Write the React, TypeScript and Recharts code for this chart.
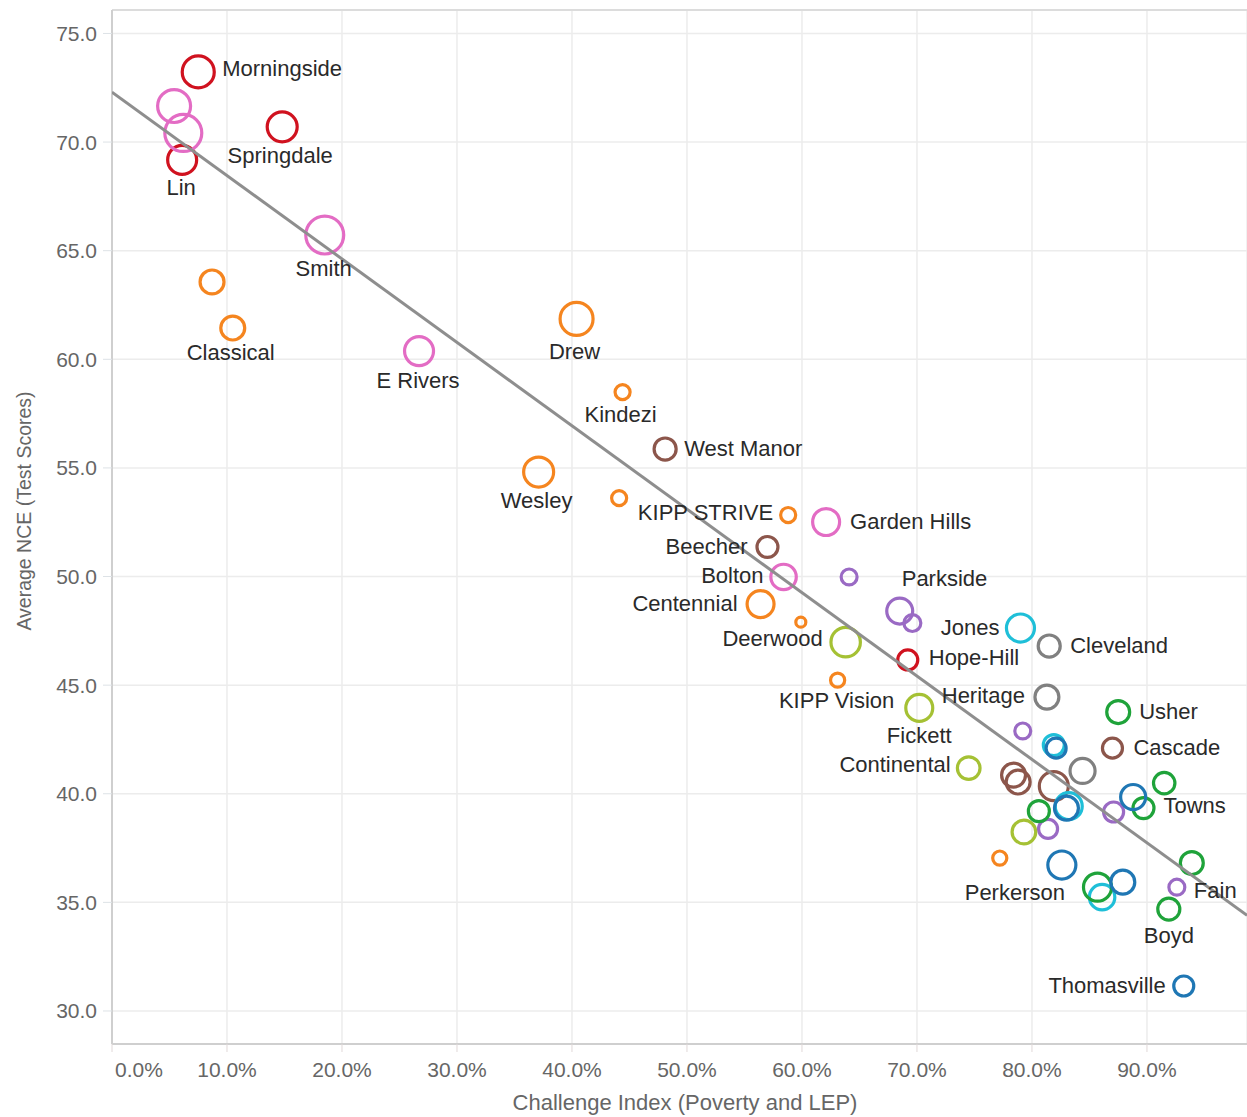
import React from 'react'
import { ScatterChart, Scatter, XAxis, YAxis, ZAxis, CartesianGrid, ReferenceLine } from 'recharts'

// school labels ('' = unlabeled mark)
const schools = [
  'Morningside', '', '', 'Lin', 'Springdale', 'Smith', '', 'Classical', 'E Rivers', 'Drew',
  'Kindezi', 'West Manor', 'Wesley', '', 'KIPP STRIVE', 'Garden Hills', 'Beecher', 'Bolton', '', 'Centennial',
  '', 'Deerwood', 'Parkside', '', 'Jones', 'Hope-Hill', 'KIPP Vision', 'Cleveland', 'Heritage', 'Fickett',
  'Usher', '', '', '', 'Cascade', 'Continental', '', '', '', '',
  '', '', 'Towns', '', '', '', '', '', '', '',
  'Perkerson', '', '', '', '', 'Fain', 'Boyd', 'Thomasville',
]

// challenge index (share, 0..1)
const challenge = [
  0.075, 0.054, 0.062, 0.061, 0.148, 0.185, 0.087, 0.105, 0.267, 0.404,
  0.444, 0.481, 0.371, 0.441, 0.588, 0.621, 0.570, 0.584, 0.641, 0.564,
  0.599, 0.638, 0.685, 0.696, 0.790, 0.692, 0.631, 0.815, 0.813, 0.702,
  0.875, 0.792, 0.819, 0.821, 0.870, 0.745, 0.784, 0.788, 0.844, 0.819,
  0.915, 0.888, 0.897, 0.832, 0.830, 0.806, 0.871, 0.814, 0.793, 0.772,
  0.826, 0.857, 0.861, 0.879, 0.939, 0.926, 0.919, 0.932,
]

// average NCE
const nce = [
  73.23, 71.66, 70.42, 69.18, 70.7, 65.72, 63.56, 61.44, 60.38, 61.86,
  58.49, 55.87, 54.81, 53.61, 52.83, 52.51, 51.36, 49.98, 49.98, 48.73,
  47.9, 46.98, 48.41, 47.86, 47.63, 46.16, 45.23, 46.8, 44.45, 43.95,
  43.76, 42.89, 42.24, 42.1, 42.1, 41.18, 40.86, 40.54, 41.05, 40.35,
  40.49, 39.85, 39.34, 39.43, 39.34, 39.2, 39.16, 38.38, 38.24, 37.04,
  36.72, 35.7, 35.24, 35.93, 36.81, 35.7, 34.69, 31.15,
]

// enrollment (bubble size)
const enrollment = [
  770, 815, 1025, 630, 675, 1080, 430, 430, 630, 815,
  170, 365, 675, 170, 170, 545, 330, 485, 190, 545,
  75, 650, 505, 215, 590, 300, 150, 365, 430, 545,
  395, 190, 330, 300, 300, 385, 430, 430, 470, 630,
  345, 470, 330, 545, 430, 330, 300, 270, 420, 150,
  590, 590, 485, 430, 395, 190, 365, 300,
]

// cluster index per school
const cluster = [
  0, 1, 1, 0, 0, 1, 2, 2, 1, 2,
  2, 3, 2, 2, 2, 1, 3, 1, 4, 2,
  2, 5, 4, 4, 6, 0, 2, 7, 7, 5,
  8, 4, 6, 9, 3, 5, 3, 3, 7, 3,
  8, 9, 8, 6, 9, 8, 4, 4, 5, 2,
  9, 8, 6, 9, 8, 4, 8, 9,
]

const clusterNames = ['C1', 'C2', 'C3', 'C4', 'C5', 'C6', 'C7', 'C8', 'C9', 'C10']

const xTicks = [0, 0.1, 0.2, 0.3, 0.4, 0.5, 0.6, 0.7, 0.8, 0.9]
const yTicks = [30, 35, 40, 45, 50, 55, 60, 65, 70, 75]

// fitted trend line end points
const trendX = [0, 0.987]
const trendY = [72.3, 34.4]

const clusterColors = [
  '#d0121f', '#e36cc4', '#f5851f', '#8c564b', '#9a6ac4',
  '#a5c134', '#1fbfd8', '#808080', '#1fa33a', '#1f77b4',
]

// label offset from mark centre: [dx, dy, anchor]
const labelPlace: Record<string, [number, number, 'start' | 'middle' | 'end']> = {
  Morningside: [24, -3, 'start'],
  Lin: [-1, 28, 'middle'],
  Springdale: [-2, 29, 'middle'],
  Smith: [-1, 33, 'middle'],
  Classical: [-2, 24, 'middle'],
  'E Rivers': [-1, 29, 'middle'],
  Drew: [-2, 33, 'middle'],
  Kindezi: [-2, 22, 'middle'],
  'West Manor': [19, -1, 'start'],
  Wesley: [-2, 28, 'middle'],
  'KIPP STRIVE': [-15, -3, 'end'],
  'Garden Hills': [24, -1, 'start'],
  Beecher: [-20, 0, 'end'],
  Bolton: [-20, -1, 'end'],
  Parkside: [2, -33, 'start'],
  Centennial: [-23, -1, 'end'],
  Deerwood: [-23, -4, 'end'],
  Jones: [-21, -1, 'end'],
  'Hope-Hill': [21, -2, 'start'],
  Cleveland: [21, -1, 'start'],
  'KIPP Vision': [-1, 20, 'middle'],
  Heritage: [-22, -2, 'end'],
  Fickett: [0, 28, 'middle'],
  Usher: [21, -1, 'start'],
  Cascade: [21, -1, 'start'],
  Continental: [-18, -4, 'end'],
  Towns: [20, -3, 'start'],
  Perkerson: [-47, 27, 'middle'],
  Fain: [17, 3, 'start'],
  Boyd: [0, 26, 'middle'],
  Thomasville: [-18, -1, 'end'],
}

const rows = schools.map((name, i) => ({
  name,
  x: challenge[i],
  y: nce[i],
  z: enrollment[i],
  c: cluster[i],
}))
const trend = trendX.map((x, i) => ({ x, y: trendY[i], z: 0 }))

const FONT = '"Liberation Sans", Arial, Helvetica, sans-serif'

function XTick(props: any) {
  const { x, y, payload, index } = props
  const first = index === 0
  return (
    <text x={first ? x + 3 : x} y={y + 21} textAnchor={first ? 'start' : 'middle'} fill="#666" fontSize={21} fontFamily={FONT}>
      {(payload.value * 100).toFixed(1) + '%'}
    </text>
  )
}

function YTick(props: any) {
  const { x, y, payload } = props
  return (
    <text x={x} y={y + 7.5} textAnchor="end" fill="#666" fontSize={21} fontFamily={FONT}>
      {Number(payload.value).toFixed(1)}
    </text>
  )
}

function ring(color: string) {
  return (p: any) => {
    const r = Math.sqrt((p.size || 0) / Math.PI)
    return <circle cx={p.cx} cy={p.cy} r={r} fill="none" stroke={color} strokeWidth={3.2} />
  }
}

function NameTag(p: any) {
  const name = p.payload?.name
  const place = labelPlace[name]
  if (!place) return <g />
  return (
    <text x={p.cx + place[0]} y={p.cy + place[1]} textAnchor={place[2]} dominantBaseline="central" fill="#2a2a2a" fontSize={22} fontFamily={FONT}>
      {name}
    </text>
  )
}

export default function App() {
  return (
    <div style={{ position: 'absolute', left: 0, top: 0, width: 1247, height: 1117, background: '#fff' }}>
      <ScatterChart width={1247} height={1117} margin={{ top: 10, right: 0, bottom: 0, left: 0 }}>
        <CartesianGrid stroke="#ececec" strokeWidth={1.5} />
        <XAxis
          type="number"
          dataKey="x"
          domain={[0, 0.987]}
          ticks={xTicks}
          allowDataOverflow
          height={73}
          tickSize={8}
          tickMargin={4}
          axisLine={{ stroke: '#cfcfcf', strokeWidth: 2 }}
          tickLine={{ stroke: '#e0d8d8' }}
          tick={<XTick />}
          label={{
            content: () => (
              <text x={685} y={1110} textAnchor="middle" fill="#666" fontSize={22} fontFamily={FONT}>
                Challenge Index (Poverty and LEP)
              </text>
            ),
          }}
        />
        <YAxis
          type="number"
          dataKey="y"
          domain={[28.48, 76.08]}
          ticks={yTicks}
          allowDataOverflow
          width={112}
          tickSize={9}
          tickMargin={6}
          axisLine={{ stroke: '#cfcfcf', strokeWidth: 2 }}
          tickLine={{ stroke: '#dde2e6' }}
          tick={<YTick />}
          label={{
            content: () => (
              <text x={24} y={511} transform="rotate(-90 24 511)" textAnchor="middle" dominantBaseline="central" fill="#666" fontSize={19.5} fontFamily={FONT}>
                Average NCE (Test Scores)
              </text>
            ),
          }}
        />
        <ZAxis type="number" dataKey="z" domain={[0, 1200]} range={[0, (1200 * Math.PI) / 3]} />
        <ReferenceLine y={76.08} stroke="#dcdcdc" strokeWidth={2} />
        {clusterNames.map((cn, k) => (
          <Scatter
            key={cn}
            name={cn}
            data={rows.filter((r) => r.c === k)}
            shape={ring(clusterColors[k])}
            isAnimationActive={false}
          />
        ))}
        <Scatter
          name="trend"
          data={trend}
          line={{ stroke: '#8e8e8e', strokeWidth: 3 }}
          shape={() => <g />}
          isAnimationActive={false}
        />
        <Scatter
          name="labels"
          data={rows.filter((r) => r.name)}
          shape={NameTag}
          isAnimationActive={false}
        />
      </ScatterChart>
    </div>
  )
}
